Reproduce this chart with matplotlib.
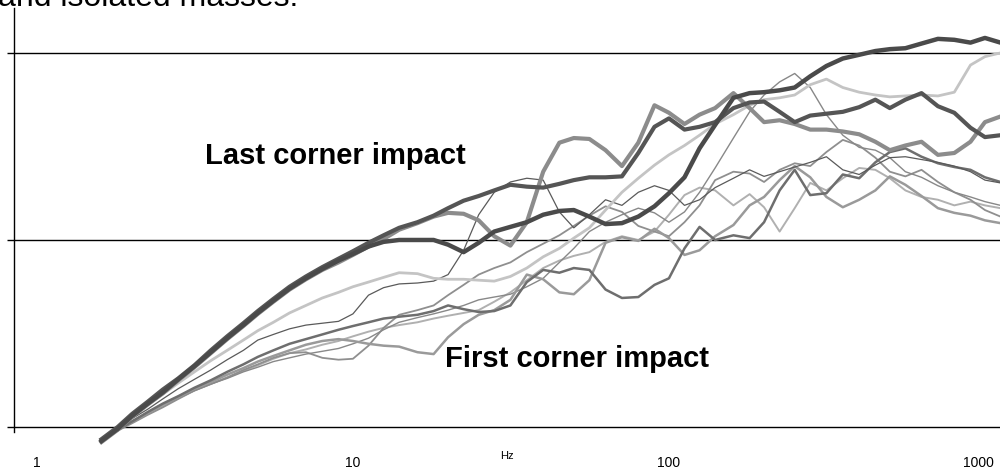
import matplotlib
matplotlib.use('Agg')
import matplotlib.pyplot as plt
import matplotlib.transforms as mtransforms
from matplotlib.ticker import FixedLocator, NullLocator

plt.rcParams['font.family'] = ['Liberation Sans', 'DejaVu Sans']

# 1/6-octave band centre frequencies (Hz)
freq = [1.6, 1.8, 2, 2.24, 2.5, 2.8, 3.15, 3.55, 4, 4.5, 5, 5.6, 6.3, 7.1, 8, 9,
        10, 11.2, 12.5, 14, 16, 18, 20, 22.4, 25, 28, 31.5, 35.5, 40, 45, 50, 56,
        63, 71, 80, 90, 100, 112, 125, 140, 160, 180, 200, 224, 250, 280, 315,
        355, 400, 450, 500, 560, 630, 710, 800, 900, 1000, 1120]

# levels (dB), one list per impact record
rec_a = [-1.3, 0.0, 1.4, 2.7, 4.0, 5.2, 6.6, 8.2, 9.7, 11.1,
         12.4, 13.7, 15.0, 16.1, 17.1, 18.0, 18.8, 19.7, 20.5, 21.3,
         21.9, 22.6, 23.4, 24.2, 24.7, 25.3, 25.9, 25.7, 25.6, 26.0,
         26.4, 26.7, 26.7, 26.8, 29.3, 32.1, 33.0, 31.8, 32.1, 32.6,
         34.1, 34.7, 34.8, 33.7, 32.6, 33.3, 33.5, 33.7, 34.2, 35.0,
         34.1, 35.0, 35.7, 34.3, 33.6, 32.0, 31.0, 31.2]
rec_b = [-1.5, -0.2, 1.2, 2.5, 3.7, 5.1, 6.5, 8.0, 9.5, 10.9,
         12.2, 13.5, 14.8, 15.9, 16.9, 17.8, 18.5, 19.3, 19.8, 20.0,
         20.0, 20.0, 19.5, 18.7, 19.7, 20.9, 21.4, 21.9, 22.7, 23.1,
         23.2, 22.5, 21.7, 21.8, 22.5, 23.6, 25.0, 26.7, 29.8, 32.3,
         35.2, 35.7, 35.8, 36.0, 36.3, 37.5, 38.6, 39.4, 39.8, 40.2,
         40.4, 40.5, 41.0, 41.5, 41.4, 41.1, 41.6, 41.1]
rec_c = [-1.6, -0.3, 1.1, 2.4, 3.6, 5.0, 6.4, 7.9, 9.4, 10.8,
         12.1, 13.4, 14.7, 15.8, 16.8, 17.6, 18.4, 19.3, 20.1, 21.1,
         21.8, 22.5, 22.9, 22.8, 22.1, 20.4, 19.4, 21.9, 27.3, 30.4,
         30.9, 30.8, 29.6, 27.9, 30.4, 34.4, 33.6, 32.4, 33.4, 34.1,
         35.7, 34.1, 32.6, 32.8, 32.4, 31.8, 31.8, 31.6, 31.3, 30.5,
         29.6, 30.1, 30.5, 29.1, 29.3, 30.5, 32.6, 33.2]
rec_d = [-1.3, -0.1, 1.2, 2.4, 3.5, 4.7, 5.9, 7.1, 8.2, 9.3,
         10.3, 11.2, 12.2, 13.0, 13.8, 14.4, 15.0, 15.5, 16.0, 16.5,
         16.4, 15.9, 15.8, 15.8, 15.7, 15.6, 16.1, 17.0, 18.2, 19.1,
         20.2, 21.3, 23.2, 25.1, 26.6, 28.0, 29.1, 30.1, 31.2, 32.4,
         33.4, 34.4, 35.0, 35.2, 35.5, 36.6, 37.2, 36.3, 35.8, 35.5,
         35.3, 35.4, 35.5, 35.4, 35.8, 38.7, 39.6, 40.0]
rec_e = [-1.3, -0.2, 0.9, 1.9, 3.0, 4.1, 5.1, 6.1, 7.2, 8.2,
         9.3, 9.9, 10.5, 10.9, 11.1, 11.3, 12.1, 14.1, 14.9, 15.3,
         15.4, 15.6, 16.3, 18.9, 22.7, 25.1, 26.2, 26.6, 26.4, 23.0,
         21.3, 22.7, 24.3, 23.7, 25.1, 25.8, 25.3, 23.7, 24.3, 25.6,
         26.6, 27.5, 26.8, 27.3, 27.8, 28.3, 28.9, 27.5, 27.0, 28.0,
         28.8, 28.9, 28.6, 28.3, 27.9, 27.3, 26.4, 26.1]
rec_f = [-1.3, -0.3, 0.6, 1.5, 2.4, 3.1, 3.9, 4.6, 5.2, 5.9,
         6.4, 7.0, 7.4, 7.8, 8.1, 8.4, 8.9, 9.5, 10.4, 11.2,
         11.7, 12.1, 12.5, 13.0, 13.6, 13.9, 14.2, 15.0, 15.9, 17.6,
         19.1, 20.9, 21.9, 22.7, 23.4, 22.9, 21.9, 23.0, 25.1, 27.7,
         30.9, 33.7, 35.5, 36.9, 37.8, 36.3, 33.4, 31.2, 29.9, 29.6,
         28.8, 27.3, 26.7, 25.8, 25.1, 24.6, 24.1, 23.7]
rec_g = [-1.3, -0.3, 0.6, 1.5, 2.4, 3.2, 4.1, 4.8, 5.6, 6.3,
         7.0, 7.6, 8.2, 8.8, 9.2, 9.4, 9.2, 8.9, 8.7, 8.6,
         8.0, 7.8, 9.6, 11.0, 12.0, 12.5, 13.6, 16.3, 15.8, 14.4,
         14.2, 15.7, 19.7, 20.3, 19.9, 21.2, 20.2, 18.4, 18.9, 20.4,
         21.6, 23.7, 24.6, 26.4, 27.9, 26.7, 24.6, 23.5, 24.3, 25.3,
         26.8, 25.9, 24.7, 23.4, 22.9, 22.6, 22.1, 21.8]
rec_h = [-1.3, -0.3, 0.6, 1.6, 2.5, 3.3, 4.2, 5.0, 5.9, 6.7,
         7.5, 8.2, 8.9, 9.4, 9.9, 10.4, 10.8, 11.2, 11.6, 11.8,
         12.0, 12.4, 13.0, 12.6, 12.3, 12.4, 13.0, 15.5, 16.8, 16.5,
         17.0, 16.8, 14.7, 13.8, 13.9, 15.2, 15.9, 19.1, 21.4, 20.0,
         20.5, 20.2, 21.9, 25.3, 27.5, 24.8, 25.0, 27.0, 26.6, 28.3,
         29.4, 29.8, 28.9, 28.2, 27.8, 27.5, 26.7, 26.2]
rec_i = [-1.3, -0.3, 0.5, 1.4, 2.2, 3.1, 3.9, 4.6, 5.3, 6.0,
         6.6, 7.3, 7.9, 8.3, 8.8, 9.2, 9.7, 10.2, 10.6, 10.9,
         11.2, 11.6, 11.9, 12.2, 12.5, 13.4, 14.4, 15.7, 17.0, 17.8,
         18.3, 18.7, 19.8, 20.4, 20.0, 20.9, 22.7, 24.8, 25.6, 25.3,
         23.7, 24.9, 23.5, 20.9, 23.4, 26.1, 25.3, 26.6, 27.7, 27.5,
         26.6, 25.3, 24.6, 24.3, 23.7, 24.1, 23.7, 23.4]
rec_j = [-1.3, -0.4, 0.4, 1.3, 2.1, 3.0, 3.9, 4.6, 5.3, 6.1,
         6.7, 7.4, 7.9, 8.0, 7.4, 7.2, 7.3, 8.7, 10.6, 12.0,
         12.5, 13.0, 14.1, 15.2, 16.3, 17.0, 17.6, 18.7, 19.6, 20.5,
         21.5, 22.6, 23.6, 23.0, 21.5, 20.9, 20.4, 21.9, 23.7, 26.4,
         27.3, 27.1, 26.2, 27.5, 28.2, 27.9, 29.4, 30.7, 30.1, 28.8,
         27.3, 26.8, 27.5, 26.2, 25.1, 24.3, 23.2, 22.5]

# drawing order: thin/light first, heavy dark ones on top
series = [
    (rec_i, '#b0b0b0', 1.4),
    (rec_j, '#8f8f8f', 1.3),
    (rec_f, '#888888', 1.0),
    (rec_g, '#9a9a9a', 1.8),
    (rec_h, '#6e6e6e', 1.8),
    (rec_e, '#5a5a5a', 0.9),
    (rec_d, '#c4c4c4', 2.0),
    (rec_c, '#8c8c8c', 3.0),
    (rec_a, '#555555', 3.0),
    (rec_b, '#4a4a4a', 3.2),
]

fig = plt.figure(figsize=(10, 4.74), dpi=100)
ax = fig.add_axes([0.014, 0.0886, 0.986, 0.8945])

for vals, col, lw in series:
    ax.plot(freq, vals, color=col, lw=lw, clip_on=False, solid_joinstyle='round')

ax.set_xscale('log')
ax.set_xlim(0.846, 1116)
ax.set_ylim(-0.53, 44.8)

ax.set_yticks([0, 20, 40])
ax.yaxis.grid(True, color='black', lw=1.0)
ax.set_axisbelow(True)
ax.tick_params(axis='y', direction='out', length=5, width=1, labelleft=False)

ax.xaxis.set_major_locator(FixedLocator([1, 10, 100, 1000]))
ax.xaxis.set_minor_locator(NullLocator())
ax.set_xticklabels(['1', '10', '100', '1000'])
ax.tick_params(axis='x', length=0, pad=17, labelsize=10)
# pull the last label in a little so it stays inside the frame
last = ax.get_xticklabels()[-1]
last.set_transform(last.get_transform() +
                   mtransforms.ScaledTranslation(-5 / 72, 0, fig.dpi_scale_trans))
ax.set_xlabel('Hz', fontsize=8)
ax.xaxis.set_label_coords(0.5, -0.045)

for s in ['top', 'right', 'bottom']:
    ax.spines[s].set_visible(False)
ax.spines['left'].set_linewidth(1.0)

ax.text(0.1937, 0.632, 'Last corner impact', transform=ax.transAxes,
        fontsize=21, fontweight='bold', va='baseline')
ax.text(0.437, 0.153, 'First corner impact', transform=ax.transAxes,
        fontsize=21, fontweight='bold', va='baseline')

# caption line cut off by the top edge, as in the source
fig.text(-0.002, 1 - 5.5 / 474, 'and isolated masses.', fontsize=23, va='baseline')

fig.savefig('out.png', dpi=100)
